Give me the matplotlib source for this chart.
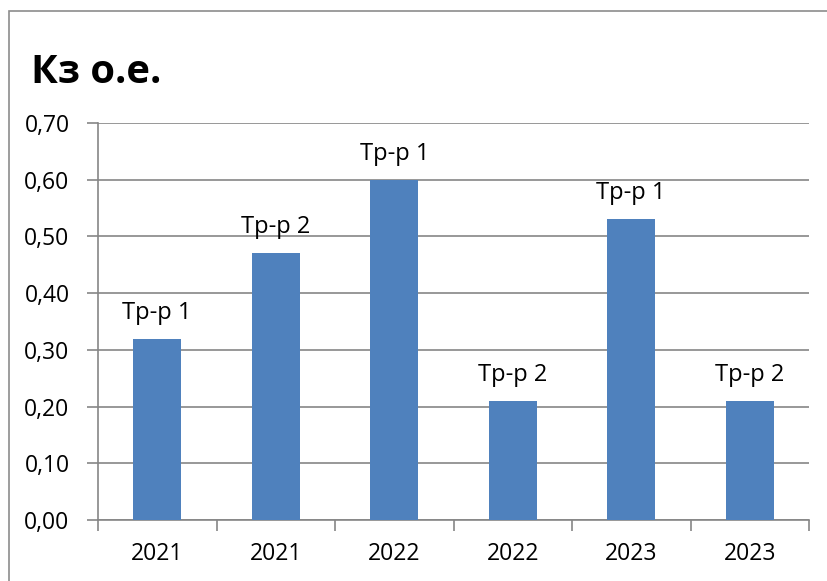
import matplotlib.pyplot as plt
from matplotlib.ticker import FuncFormatter
import matplotlib.patches as patches

plt.rcParams['font.family'] = ['Open Sans', 'DejaVu Sans']

# данные по коэффициенту загрузки трансформаторов
years = ['2021', '2021', '2022', '2022', '2023', '2023']
kz = [0.32, 0.47, 0.60, 0.21, 0.53, 0.21]
labels = ['Тр-р 1', 'Тр-р 2', 'Тр-р 1', 'Тр-р 2', 'Тр-р 1', 'Тр-р 2']

fig = plt.figure(figsize=(8.27, 5.81), dpi=100)
ax = fig.add_axes([98 / 827, 1 - 520 / 581, (809 - 98) / 827, (520 - 123) / 581])

# рамка диаграммы
fig.patches.append(patches.Rectangle((9 / 827, -0.1), 1.2, 1 - 10.5 / 581 + 0.1,
                                     transform=fig.transFigure, fill=False,
                                     edgecolor='#8c8c8c', linewidth=1.2))

x = range(len(kz))
ax.bar(x, kz, width=0.405, color='#4f81bd', zorder=3)
for i, v in enumerate(kz):
    ax.annotate(labels[i], (i, v), xytext=(0, 14.4), textcoords='offset points',
                ha='center', va='baseline', fontsize=17)

ax.set_xlim(-0.5, len(kz) - 0.5)
ax.set_ylim(0, 0.70)
ax.set_yticks([i / 10 for i in range(8)])
ax.yaxis.set_major_formatter(FuncFormatter(lambda v, p: ('%.2f' % v).replace('.', ',')))
ax.set_xticks(list(x))
ax.set_xticklabels(years)
ax.set_xticks([i - 0.5 for i in range(len(kz) + 1)], minor=True)
ax.tick_params(axis='x', which='major', length=0, labelsize=16.5, pad=16)
ax.tick_params(axis='x', which='minor', length=8, color='#868686', width=1.2)
ax.tick_params(axis='y', length=8, color='#868686', width=1.2, labelsize=16.5, pad=12.5)
ax.grid(axis='y', color='#868686', linewidth=1.2, zorder=0)

for s in ['top', 'right']:
    ax.spines[s].set_visible(False)
for s in ['left', 'bottom']:
    ax.spines[s].set_color('#868686')
    ax.spines[s].set_linewidth(1.2)

fig.text(31 / 827, 1 - 83 / 581, 'Кз о.е.', fontsize=28.7, fontweight='bold',
         ha='left', va='baseline')

fig.savefig('out.png', dpi=100)
